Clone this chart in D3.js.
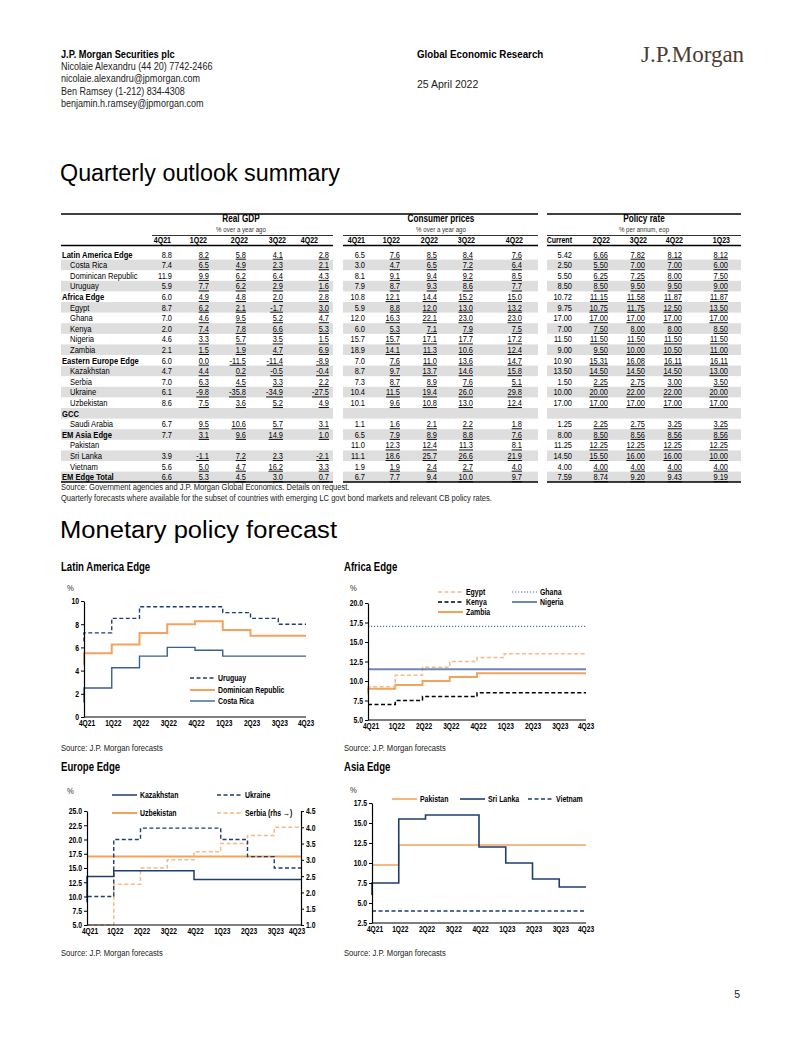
<!DOCTYPE html>
<html><head><meta charset="utf-8">
<script src="https://cdn.jsdelivr.net/npm/d3@7"></script>
<style>
body{margin:0;background:#fff;}
svg{display:block;}
</style></head><body>
<svg id="page" width="802" height="1037"></svg>
<script>
// ---------- TABLE DATA ----------
const rowLabels = ["Latin America Edge","Costa Rica","Dominican Republic","Uruguay","Africa Edge","Egypt","Ghana","Kenya","Nigeria","Zambia","Eastern Europe Edge","Kazakhstan","Serbia","Ukraine","Uzbekistan","GCC","Saudi Arabia","EM Asia Edge","Pakistan","Sri Lanka","Vietnam","EM Edge Total"];
const groupRows = ["Latin America Edge","Africa Edge","Eastern Europe Edge","GCC","EM Asia Edge","EM Edge Total"];
const gdpCols = ["4Q21","1Q22","2Q22","3Q22","4Q22"];
const cpiCols = ["4Q21","1Q22","2Q22","3Q22","4Q22"];
const policyCols = ["Current","2Q22","3Q22","4Q22","1Q23"];
const gdpValues = [
[8.8,8.2,5.8,4.1,2.8],[7.4,6.5,4.9,2.3,2.1],[11.9,9.9,6.2,6.4,4.3],[5.9,7.7,6.2,2.9,1.6],
[6.0,4.9,4.8,2.0,2.8],[8.7,6.2,2.1,-1.7,3.0],[7.0,4.6,9.5,5.2,4.7],[2.0,7.4,7.8,6.6,5.3],
[4.6,3.3,5.7,3.5,1.5],[2.1,1.5,1.9,4.7,6.9],[6.0,0.0,-11.5,-11.4,-8.9],[4.7,4.4,0.2,-0.5,-0.4],
[7.0,6.3,4.5,3.3,2.2],[6.1,-9.8,-35.8,-34.9,-27.5],[8.6,7.5,3.6,5.2,4.9],null,
[6.7,9.5,10.6,5.7,3.1],[7.7,3.1,9.6,14.9,1.0],null,[3.9,-1.1,7.2,2.3,-2.1],
[5.6,5.0,4.7,16.2,3.3],[6.6,5.3,4.5,3.0,0.7]];
const cpiValues = [
[6.5,7.6,8.5,8.4,7.6],[3.0,4.7,6.5,7.2,6.4],[8.1,9.1,9.4,9.2,8.5],[7.9,8.7,9.3,8.6,7.7],
[10.8,12.1,14.4,15.2,15.0],[5.9,8.8,12.0,13.0,13.2],[12.0,16.3,22.1,23.0,23.0],[6.0,5.3,7.1,7.9,7.5],
[15.7,15.7,17.1,17.7,17.2],[18.9,14.1,11.3,10.6,12.4],[7.0,7.6,11.0,13.6,14.7],[8.7,9.7,13.7,14.6,15.8],
[7.3,8.7,8.9,7.6,5.1],[10.4,11.5,19.4,26.0,29.8],[10.1,9.6,10.8,13.0,12.4],null,
[1.1,1.6,2.1,2.2,1.8],[6.5,7.9,8.9,8.8,7.6],[11.0,12.3,12.4,11.3,8.1],[11.1,18.6,25.7,26.6,21.9],
[1.9,1.9,2.4,2.7,4.0],[6.7,7.7,9.4,10.0,9.7]];
const policyValues = [
[5.42,6.66,7.82,8.12,8.12],[2.50,5.50,7.00,7.00,6.00],[5.50,6.25,7.25,8.00,7.50],[8.50,8.50,9.50,9.50,9.00],
[10.72,11.15,11.58,11.87,11.87],[9.75,10.75,11.75,12.50,13.50],[17,17,17,17,17],[7.00,7.50,8.00,8.00,8.50],
[11.5,11.5,11.5,11.5,11.5],[9.00,9.50,10.00,10.50,11.00],[10.90,15.31,16.08,16.11,16.11],[13.50,14.50,14.50,14.50,13.00],
[1.50,2.25,2.75,3.00,3.50],[10,20,22,22,20],[17,17,17,17,17],null,
[1.25,2.25,2.75,3.25,3.25],[8.00,8.50,8.56,8.56,8.56],[11.25,12.25,12.25,12.25,12.25],[14.50,15.50,16.00,16.00,10.00],
[4,4,4,4,4],[7.59,8.74,9.20,9.43,9.19]];

// ---------- CHART DATA (policy rates, %) ----------
// x axis quarters; each series: [level entering 4Q21, then level held from 4Q21, 1Q22, ... 3Q23]
const quarters = ["4Q21","1Q22","2Q22","3Q22","4Q22","1Q23","2Q23","3Q23","4Q23"];
const uruguayRate   = [6.5, 7.25, 8.5, 9.5, 9.5, 9.5, 9.0, 8.5, 8.0];
const dominicanRate = [4.5, 5.5, 6.25, 7.25, 8.0, 8.25, 7.5, 7.0, 7.0];
const costaRicaRate = [1.25, 2.5, 4.25, 5.25, 6.0, 5.75, 5.25, 5.25, 5.25];
const egyptRate     = [8.25, 9.25, 10.75, 11.75, 12.5, 13.0, 13.5, 13.5, 13.5];
const ghanaRate     = [17, 17, 17, 17, 17, 17, 17, 17, 17];
const kenyaRate     = [7.0, 7.0, 7.5, 8.0, 8.0, 8.5, 8.5, 8.5, 8.5];
const nigeriaRate   = [11.5, 11.5, 11.5, 11.5, 11.5, 11.5, 11.5, 11.5, 11.5];
const zambiaRate    = [8.5, 9.0, 9.5, 10.0, 10.5, 11.0, 11.0, 11.0, 11.0];
const kazakhstanRate= [9.75, 13.5, 14.5, 14.5, 14.5, 13.0, 13.0, 13.0, 13.0];
const ukraineRate   = [9.0, 10, 20, 22, 22, 22, 20, 17, 15];
const uzbekistanRate= [17, 17, 17, 17, 17, 17, 17, 17, 17];
const serbiaRate    = [1.0, 1.0, 2.25, 2.75, 3.0, 3.25, 3.5, 3.75, 4.0];
const pakistanRate  = [9.75, 9.75, 12.25, 12.25, 12.25, 12.25, 12.25, 12.25, 12.25];
const sriLankaRate  = [6.0, 7.5, 15.5, 16, 16, 12, 10, 8, 7];
const vietnamRate   = [4, 4, 4, 4, 4, 4, 4, 4, 4];

// ---------- RENDER ----------
const SANS = '"Liberation Sans",Arial,sans-serif';
const svg = d3.select("#page");
const NAVY = "#1f3d6e", ORANGE = "#f5a25d", LORANGE = "#f8b888", STEEL = "#6f87b5";

function txt(x, y, s, o = {}) {
  const sx = o.sx || 1;
  const t = svg.append("text").attr("x", x / sx).attr("y", y).text(s)
    .attr("font-family", o.family || SANS).attr("font-size", o.size || 10)
    .attr("font-weight", o.bold ? "bold" : "normal").attr("fill", o.fill || "#000")
    .attr("text-anchor", o.anchor || "start");
  if (sx !== 1) t.attr("transform", `scale(${sx},1)`);
  return t;
}

// header
txt(61, 58.5, "J.P. Morgan Securities plc", {bold: true, size: 10.5, sx: 0.88});
txt(61, 70.5, "Nicolaie Alexandru (44 20) 7742-2466", {size: 10.5, sx: 0.86, fill: "#222"});
txt(61, 82.5, "nicolaie.alexandru@jpmorgan.com", {size: 10.5, sx: 0.86, fill: "#222"});
txt(61, 95, "Ben Ramsey (1-212) 834-4308", {size: 10.5, sx: 0.86, fill: "#222"});
txt(61, 107, "benjamin.h.ramsey@jpmorgan.com", {size: 10.5, sx: 0.86, fill: "#222"});
txt(417, 58.5, "Global Economic Research", {bold: true, size: 10.5, sx: 0.93});
txt(417, 87.5, "25 April 2022", {size: 10.5, fill: "#222"});
txt(641, 62, "J.P.Morgan", {family: '"Liberation Serif","DejaVu Serif",serif', size: 23, fill: "#4d3b32"});

txt(60, 181, "Quarterly outlook summary", {size: 23.5}).attr("textLength", 280).attr("lengthAdjust", "spacingAndGlyphs");
txt(60, 538, "Monetary policy forecast", {size: 23.5}).attr("textLength", 277).attr("lengthAdjust", "spacingAndGlyphs");

// ---------- TABLE ----------
const rowY0 = 254.3, rowH = 10.6;
const groups = [
  {title: "Real GDP", sub: "% over a year ago", cols: gdpCols, vals: gdpValues, x0: 61, x1: 333, hx0: 152, cx: 241,
   hdrX: [171, 207, 248, 286, 318], valX: [172, 209, 246, 283, 329], dec: 1},
  {title: "Consumer prices", sub: "% over a year ago", cols: cpiCols, vals: cpiValues, x0: 343, x1: 538, hx0: 343, cx: 441,
   hdrX: [365, 400, 438, 475, 523], valX: [365, 400, 437, 473, 522], dec: 1},
  {title: "Policy rate", sub: "% per annum, eop", cols: policyCols, vals: policyValues, x0: 547, x1: 741, hx0: 547, cx: 644,
   hdrX: [572, 610, 647, 683, 730], valX: [572, 608, 645, 682, 728], dec: 2}
];
rowLabels.forEach((lab, i) => {
  if (i % 2 === 1) {
    groups.forEach(g => {
      svg.append("rect").attr("x", g.x0).attr("y", rowY0 + i * rowH - rowH / 2)
        .attr("width", g.x1 - g.x0).attr("height", rowH).attr("fill", "#dedede");
    });
  }
});
svg.append("line").attr("x1", 61).attr("x2", 538).attr("y1", 214).attr("y2", 214).attr("stroke", "#000").attr("stroke-width", 1.6);
svg.append("line").attr("x1", 547).attr("x2", 741).attr("y1", 214).attr("y2", 214).attr("stroke", "#000").attr("stroke-width", 1.6);
groups.forEach(g => {
  txt(g.cx, 222.5, g.title, {bold: true, size: 10.5, sx: 0.78, anchor: "middle"});
  txt(g.cx, 232, g.sub, {size: 7.5, sx: 0.82, anchor: "middle", fill: "#333"});
  svg.append("line").attr("x1", g.hx0).attr("x2", g.x1).attr("y1", 235.5).attr("y2", 235.5).attr("stroke", "#000").attr("stroke-width", 0.8);
  g.cols.forEach((c, j) => txt(g.hdrX[j], 243, c, {bold: true, size: 9, sx: 0.78, anchor: "end"}));
  svg.append("line").attr("x1", g.x0).attr("x2", g.x1).attr("y1", 245.5).attr("y2", 245.5).attr("stroke", "#000").attr("stroke-width", 1.4);
  svg.append("line").attr("x1", g.x0).attr("x2", g.x1).attr("y1", 482).attr("y2", 482).attr("stroke", "#000").attr("stroke-width", 1.6);
  g.vals.forEach((row, i) => {
    if (!row) return;
    row.forEach((v, j) => {
      const t = txt(g.valX[j], rowY0 + i * rowH + 3.3, v.toFixed(g.dec), {size: 9.3, sx: 0.8, anchor: "end"});
      if (j > 0) t.style("text-decoration", "underline");
    });
  });
});
rowLabels.forEach((lab, i) => {
  const grp = groupRows.includes(lab);
  txt(grp ? 62 : 70, rowY0 + i * rowH + 3.3, lab, {bold: grp, size: 9.5, sx: 0.8});
});
txt(61, 490.5, "Source: Government agencies and J.P. Morgan Global Economics.  Details on request.", {size: 9, sx: 0.84, fill: "#222"});
txt(61, 501.5, "Quarterly forecasts where available for the subset of countries with emerging LC govt bond markets and relevant CB policy rates.", {size: 9, sx: 0.84, fill: "#222"});

// ---------- CHARTS ----------
function stepPoints(arr) {
  const pts = [{i: 0, v: arr[0]}];
  for (let k = 1; k < arr.length; k++) pts.push({i: k - 1, v: arr[k]});
  pts.push({i: quarters.length - 1, v: arr[arr.length - 1]});
  return pts;
}
const styles = {
  uruguay: {c: NAVY, w: 1.4, d: "4,2.5"},
  dominican: {c: ORANGE, w: 2, d: null},
  costa: {c: "#3b5f94", w: 1.4, d: null},
  egypt: {c: LORANGE, w: 1.5, d: "4,2.5"},
  ghana: {c: "#4f70a8", w: 1.1, d: "1.2,1.8"},
  kenya: {c: "#000", w: 1.5, d: "4,2.5"},
  nigeria: {c: STEEL, w: 2, d: null},
  zambia: {c: ORANGE, w: 2, d: null},
  kaz: {c: NAVY, w: 1.5, d: null},
  ukr: {c: NAVY, w: 1.4, d: "4,2.5"},
  uzb: {c: ORANGE, w: 2, d: null},
  serbia: {c: LORANGE, w: 1.5, d: "4,2.5"},
  pak: {c: ORANGE, w: 1.6, d: null},
  sri: {c: NAVY, w: 1.6, d: null},
  viet: {c: NAVY, w: 1.4, d: "4,2.5"}
};
const TSX = 0.76;
function drawChart(c) {
  const g = svg.append("g");
  const x = d3.scaleLinear().domain([0, quarters.length - 1]).range(c.xr);
  const yL = d3.scaleLinear().domain(c.yd).range(c.yr);
  const yR = c.yd2 ? d3.scaleLinear().domain(c.yd2).range(c.yr) : null;
  txt(c.tx, c.ty, c.title, {bold: true, size: 12, sx: 0.8});
  txt(c.px, c.py, "%", {size: 9, sx: 0.85, fill: "#333"});
  c.series.forEach(s => {
    const ys = s.rhs ? yR : yL;
    const line = d3.line().x(p => x(p.i)).y(p => ys(p.v)).curve(d3.curveStepAfter);
    const st = styles[s.st];
    g.append("path").attr("d", line(stepPoints(s.data))).attr("fill", "none")
      .attr("stroke", st.c).attr("stroke-width", st.w).attr("stroke-dasharray", st.d);
  });
  const styleAxis = a => {
    a.select(".domain").attr("stroke", "#000").attr("stroke-width", 1.2);
    a.selectAll(".tick line").attr("stroke", "#000");
    a.selectAll(".tick text").attr("font-family", SANS).attr("font-size", 9).attr("font-weight", "bold").attr("fill", "#000")
      .attr("x", function () { return +d3.select(this).attr("x") / TSX; })
      .attr("transform", `scale(${TSX},1)`);
  };
  const aL = g.append("g").attr("transform", `translate(${c.xr[0]},0)`)
    .call(d3.axisLeft(yL).tickValues(c.ticks).tickFormat(c.fmt).tickSize(3).tickSizeOuter(0).tickPadding(2));
  styleAxis(aL);
  if (yR) {
    const aR = g.append("g").attr("transform", `translate(${c.xr[1]},0)`)
      .call(d3.axisRight(yR).tickValues(c.ticks2).tickFormat(d3.format(".1f")).tickSize(3).tickSizeOuter(0).tickPadding(2));
    styleAxis(aR);
  }
  g.append("line").attr("x1", c.xr[0]).attr("x2", c.xr[1]).attr("y1", c.yr[0]).attr("y2", c.yr[0])
    .attr("stroke", "#000").attr("stroke-width", 1.2);
  quarters.forEach((q, k) => {
    const off = k === 0 ? 3 : (k === quarters.length - 1 ? (c.lastOff || 0) : 1.5);
    txt(x(k) + off, c.yr[0] + 9.5, q, {bold: true, size: 8.7, sx: TSX, anchor: "middle"});
  });
  c.legend.forEach(l => {
    const st = styles[l.st];
    g.append("line").attr("x1", l.x).attr("x2", l.x + 25).attr("y1", l.y).attr("y2", l.y)
      .attr("stroke", st.c).attr("stroke-width", st.w).attr("stroke-dasharray", st.d);
    txt(l.x + 28, l.y + 3.3, l.label, {bold: true, size: 9, sx: 0.77});
  });
  txt(c.tx, c.sy, "Source: J.P. Morgan forecasts", {size: 9, sx: 0.85, fill: "#222"});
}

drawChart({
  title: "Latin America Edge", tx: 61, ty: 571, px: 67, py: 591, sy: 751,
  xr: [84, 306], yd: [0, 10], yr: [717, 601], ticks: [0, 2, 4, 6, 8, 10], fmt: d3.format("d"),
  series: [{data: costaRicaRate, st: "costa"}, {data: dominicanRate, st: "dominican"}, {data: uruguayRate, st: "uruguay"}],
  legend: [{x: 190, y: 678, label: "Uruguay", st: "uruguay"}, {x: 190, y: 690, label: "Dominican Republic", st: "dominican"},
           {x: 190, y: 701, label: "Costa Rica", st: "costa"}]
});
drawChart({
  title: "Africa Edge", tx: 344, ty: 571, px: 350, py: 591, sy: 751,
  xr: [368, 586], yd: [5, 20], yr: [720, 603], ticks: [5, 7.5, 10, 12.5, 15, 17.5, 20], fmt: d3.format(".1f"),
  series: [{data: kenyaRate, st: "kenya"}, {data: zambiaRate, st: "zambia"}, {data: egyptRate, st: "egypt"},
           {data: nigeriaRate, st: "nigeria"}, {data: ghanaRate, st: "ghana"}],
  legend: [{x: 438, y: 592, label: "Egypt", st: "egypt"}, {x: 512, y: 592, label: "Ghana", st: "ghana"},
           {x: 438, y: 602, label: "Kenya", st: "kenya"}, {x: 512, y: 602, label: "Nigeria", st: "nigeria"},
           {x: 438, y: 612, label: "Zambia", st: "zambia"}]
});
drawChart({
  title: "Europe Edge", tx: 61, ty: 771, px: 67, py: 794, sy: 956, lastOff: -4,
  xr: [87, 301], yd: [5, 25], yr: [925, 811], ticks: [5, 7.5, 10, 12.5, 15, 17.5, 20, 22.5, 25], fmt: d3.format(".1f"),
  yd2: [1, 4.5], ticks2: [1, 1.5, 2, 2.5, 3, 3.5, 4, 4.5],
  series: [{data: uzbekistanRate, st: "uzb"}, {data: serbiaRate, st: "serbia", rhs: true},
           {data: kazakhstanRate, st: "kaz"}, {data: ukraineRate, st: "ukr"}],
  legend: [{x: 112, y: 795, label: "Kazakhstan", st: "kaz"}, {x: 217, y: 795, label: "Ukraine", st: "ukr"},
           {x: 112, y: 813, label: "Uzbekistan", st: "uzb"}, {x: 217, y: 813, label: "Serbia (rhs \u2192)", st: "serbia"}]
});
drawChart({
  title: "Asia Edge", tx: 344, ty: 771, px: 350, py: 793, sy: 956,
  xr: [372, 586], yd: [2.5, 17.5], yr: [923, 803], ticks: [2.5, 5, 7.5, 10, 12.5, 15, 17.5], fmt: d3.format(".1f"),
  series: [{data: pakistanRate, st: "pak"}, {data: sriLankaRate, st: "sri"}, {data: vietnamRate, st: "viet"}],
  legend: [{x: 392, y: 799, label: "Pakistan", st: "pak"}, {x: 460, y: 799, label: "Sri Lanka", st: "sri"},
           {x: 528, y: 799, label: "Vietnam", st: "viet"}]
});

txt(740, 998, "5", {size: 10.5, anchor: "end", fill: "#222"});
</script>
</body></html>
